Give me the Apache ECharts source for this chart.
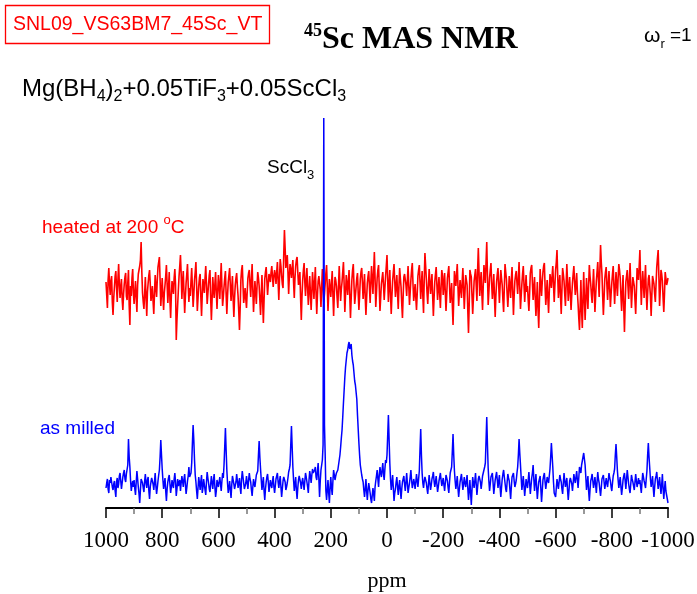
<!DOCTYPE html>
<html>
<head>
<meta charset="utf-8">
<script src="https://cdn.jsdelivr.net/npm/echarts@6/dist/echarts.min.js"></script>
<style>
  html, body { margin: 0; padding: 0; background: #fff; }
  #graph { width: 697px; height: 594px; }
</style>
</head>
<body>
<div id="graph"></div>
<script>
"use strict"

// spectra sampled every 5 ppm from 1000 ppm down to -1000 ppm,
// plus the in-between points (ppm - 2.5) kept in the *Mid arrays
const ppmStart = 1000, ppmStep = 5;

// as milled (blue), intensity, baseline = 0
const asMilled = [
    -3, 6, -8, 2, 10, -5, 4, -12, 7, 1, 12, -4, 8, 15, 3, 9, 46, 18, -6, 4,
    5, -10, 14, -2, -18, 6, 2, -7, 11, -3, 8, -14, 3, 9, -5, 12, -9, 4, 15, 45,
    16, -4, 7, -16, 3, 10, -8, 5, -3, 12, -11, 6, 2, -6, 9, -2, 11, -9, 4, 18,
    6, 22, 60, 25, 3, -14, 8, -5, 10, -3, 4, -10, 13, 2, -7, 9, -4, 11, -12, 5,
    -2, 8, -6, 12, 20, 57, 15, -8, 4, -13, 9, 1, -5, 11, -3, 7, -9, 14, 2, -6,
    9, -4, 12, 3, -11, 6, -2, 10, 14, 44, 16, -5, 8, -15, 3, 11, -7, 5, -3, 9,
    -8, 6, 12, -3, 9, -12, 4, 10, -5, 2, 13, 20, 59, 18, -6, 8, -14, 5, 11, -4,
    7, -5, 12, 3, -8, 14, 2, 16, 10, 18, 5, 22, -12, 15, 25, 367, 30, -15, 5, -18,
    8, -10, 15, 5, 12, 15, 25, 38, 55, 82, 108, 125, 135, 143, 138, 130, 120, 104, 98, 70,
    42, 20, 10, 3, -12, 6, -15, 2, -8, -18, -3, -16, 4, 15, -2, 18, 8, 22, 5, 25,
    30, 70, 22, -5, 10, -16, -4, 8, -10, 5, -14, 3, 9, -6, 12, -8, 2, 15, -3, 6,
    -4, 11, -2, 14, 56, 12, -3, 8, 2, -9, 10, -5, 6, 13, -2, 9, -7, 4, 12, -1,
    7, -6, 10, 4, -8, 12, 18, 51, 14, -4, 9, -12, 3, 11, -5, 8, -2, 10, -15, 5,
    -20, 8, -3, 12, -10, 6, 11, -4, 9, 14, 22, 68, 17, -6, 8, 12, -9, 5, 13, -3,
    10, -12, 6, 15, 2, -7, 11, 4, -14, 8, 12, -2, 5, 18, 46, 20, -5, 9, -11, 6,
    -3, 13, -9, 7, 20, -6, 11, -14, 3, 9, -17, 5, 12, -4, 8, 2, 16, 42, 18, -8,
    -12, 6, -4, 10, 3, -9, 12, -2, 7, -15, 4, 9, -6, 11, 2, 14, -3, 18, 12, 24,
    32, 20, -5, 9, -16, 4, 11, -3, 8, -8, 13, 2, -11, 6, 10, -4, 7, -2, 12, 4,
    -6, 9, 16, 41, 14, -3, 8, -10, 5, 12, -4, 15, 1, -8, 10, 3, -5, 11, -2, 7,
    5, -8, 12, 4, -3, 14, 42, 17, -2, 9, -12, 6, 13, -4, 8, -9, 11, -14, 4, -10,
    -18
];
const asMilledMid = [
    2, -4, 5, 8, -2, 1, -6, 3, -3, 9, 4, 2, 12, 6, 11, 20, 28, 4, 0, -2,
    -4, 3, 6, -9, -5, 8, -3, 4, 2, 5, -6, -2, 7, 1, 3, -1, -3, 10, 28, 30,
    5, 2, -6, -4, 7, 1, -2, 0, 6, 3, -4, -1, 5, 2, 4, 6, 1, -3, 9, 8,
    12, 42, 45, 10, -6, -3, 2, 4, -8, 6, -5, 3, 7, -4, 1, 2, 5, -2, -6, 3,
    3, 1, 4, 7, 38, 35, 2, -3, -5, 0, 5, -4, 3, 4, 2, -3, 6, 8, -4, 2,
    2, 5, 6, -5, -2, 1, 4, 11, 30, 28, 5, 2, -6, -4, 8, 3, -1, 0, 4, -2,
    -1, 9, 3, 4, -2, -4, 8, 3, -2, 7, 16, 40, 38, 5, 1, -5, -3, 9, 2, 3,
    1, 4, 8, -2, 5, 9, 10, 12, 15, 8, 14, 6, 4, 20, 40, 60, -6, -5, -8, -2,
    -3, 4, 10, 9, 14, 20, 30, 47, 68, 95, 118, 132, 140, 136, 141, 124, 112, 100, 86, 56,
    30, 15, 6, -5, -4, -6, -5, -3, -14, -10, -9, -2, 9, 6, 10, 12, 15, 11, 16, 22,
    50, 45, 6, 2, -3, -8, 3, -2, -1, -5, -4, 6, 1, 3, 2, -3, 8, 5, 1, 2,
    3, 4, 6, 36, 30, 2, 4, 5, -4, 1, 2, 0, 9, 4, 3, 1, -2, 8, 5, 3,
    0, 2, 7, -3, 3, 15, 34, 30, 4, 2, -3, -4, 7, 3, 1, 2, 4, -3, -6, -8,
    -5, 2, 4, 1, -2, 9, 3, 2, 12, 18, 45, 40, 4, 1, 10, 2, -2, 9, 5, 4,
    -2, -3, 11, 8, -4, 3, 7, -5, -2, 10, 4, 1, 12, 30, 32, 7, 2, -1, -3, 1,
    5, 2, -1, 12, 6, 3, -2, -5, 6, -4, -6, 9, 3, 2, 5, 9, 28, 30, 3, -10,
    -3, 1, 3, 6, -4, 2, 4, 3, -5, -6, 7, 1, 2, 6, 8, 5, 7, 15, 20, 28,
    26, 8, 2, -6, -5, 7, 4, 2, 0, 3, 6, -5, -3, 8, 3, 1, 2, 5, 7, -2,
    2, 12, 30, 28, 5, 3, -2, -3, 9, 4, 6, 8, -4, 1, 6, -1, 3, 4, 2, 1,
    -2, 3, 8, 1, 6, 30, 28, 6, 3, -3, -2, 9, 4, 2, -1, 0, -3, -4, -6, -14
];

// heated at 200 oC (red), baseline = 0, drawn shifted up by redOffset
const heated = [
    8, -18, 22, -5, 14, -25, 3, 19, -12, 26, -8, 11, -20, 6, 17, -10, 20, -35, -6, 21,
    -14, 9, -22, 16, 24, 48, -3, -19, 13, -26, 7, 20, -11, 4, -24, 15, -7, 23, 33, -16,
    12, -20, 5, 25, -13, 18, -28, 9, -4, 21, -50, -15, 14, 35, -9, 19, -23, 7, 26, -12,
    -6, 22, -17, 10, 28, -21, 4, 16, -26, 11, -3, 24, -14, 6, 20, -30, 13, -8, 18, -19,
    15, -9, 27, -16, 3, 19, -24, 8, 22, -11, 14, -27, 5, 17, -6, -40, 10, 25, -13, 2,
    -18, 12, 20, -7, 26, -22, 9, -14, 18, 4, -25, 15, -33, 11, 23, -5, 16, 8, 24, 3,
    20, 6, 28, -10, 31, 14, 2, 60, 22, 35, -4, 26, 12, 30, -8, 24, 33, 5, 18, -30,
    10, 27, -6, 22, -15, 14, -20, 18, -9, 23, -24, 9, 16, -17, 21, -12, 6, 25, -21, 11,
    -7, 19, -26, 13, 4, -18, 24, -11, 8, 28, -22, 15, -5, 20, -28, 10, 26, -14, 3, 17,
    -20, 11, 22, -9, 16, -25, 7, 19, -13, 24, -4, 38, -17, 12, 25, -21, 6, 18, -10, 14,
    35, -12, 20, -24, 9, 26, -7, 15, -19, 22, 3, -28, 13, 18, -6, 24, -15, 10, 27, -11,
    6, -20, 14, 25, -9, 19, -23, 37, 11, -14, 21, -4, 16, -26, 8, 23, -10, 13, -18, 20,
    -5, 17, -21, 12, 24, -13, 7, -35, 19, 4, 26, -16, 10, -8, 22, -19, 15, 5, -43, 20,
    13, -24, 9, 21, -11, 42, -6, 18, -20, 25, 7, 48, -15, 12, 27, -9, 16, -27, 8, 22,
    -13, 20, 5, -22, 26, 11, -17, 14, -8, 23, -25, 9, 19, -4, 28, -19, 6, 24, -12, 15,
    4, -21, 17, 25, -10, 13, -26, 8, -38, 21, -6, 18, 27, -15, 10, -23, 16, 2, 24, -12,
    20, 40, -8, 15, -24, 22, 9, -16, 26, -11, 13, -20, 7, 24, -5, 17, -14, -40, 10, -38,
    18, -30, 12, -19, 25, 6, -13, 21, -22, 9, 28, -7, 45, 16, -25, 11, 23, -10, 19, -17,
    7, 24, -14, 18, -6, 26, 12, -21, 15, -42, 8, 20, -9, 27, -18, 13, 4, -24, 22, 10,
    40, -15, 19, -8, 25, -20, 11, 17, -26, 14, 6, -12, 23, 40, -16, 20, 9, -22, 18, 5,
    12
];
const heatedMid = [
    -5, 10, 6, 9, -12, -8, 14, 2, 11, 5, 3, -9, -4, 13, -6, 7, -15, 4, 12, -3,
    -2, -8, 5, 20, 30, 18, -12, -4, -7, -2, 15, 6, -5, -11, -4, 3, 10, 25, 10, -3,
    -6, -3, 14, 6, 2, -10, -6, 3, 12, 5, -30, 0, 24, 16, 8, -3, -7, 16, 5, 2,
    9, 3, -5, 18, 4, -8, 12, -7, -5, 4, 12, 6, -4, 15, -8, -10, 1, 6, -2, -1,
    4, 10, 3, -7, 12, -4, -6, 15, 4, 2, -9, -8, 12, 4, -22, -18, 20, 5, -6, -9,
    -2, 17, 5, 10, 0, -6, -3, 4, 12, -10, -5, -12, -10, 18, 9, 6, 12, 18, 13, 14,
    15, 18, 8, 12, 24, 6, 35, 42, 28, 18, 14, 20, 22, 8, 12, 30, 18, 10, -8, -6,
    20, 8, 10, 2, 0, -4, -2, 6, 8, -3, -5, 14, 0, 3, 2, -4, 17, 3, -4, 2,
    6, -5, -4, 10, -8, 5, 4, 1, 18, 5, -4, 6, 9, -6, -9, 20, 5, -6, 12, -3,
    -6, 18, 7, 4, -7, -8, 14, 3, 8, 10, 18, 12, -3, 20, 2, -8, 12, 5, 2, 24,
    10, 6, -4, -6, 18, 9, 4, -3, 3, 12, -14, -6, 16, 5, 10, 4, -2, 20, 6, -3,
    -8, -4, 20, 8, 6, -6, 10, 24, -3, 4, 9, 6, -6, -8, 16, 5, 2, -4, 3, 14,
    6, -3, -5, 18, 4, -4, -15, -8, 12, 15, 4, -2, 0, 8, 2, -2, 10, -20, -15, 16,
    -6, -8, 15, 4, 20, 18, 7, -3, 4, 16, 28, 15, -2, 20, 6, 3, -8, -6, 16, 5,
    4, 12, -10, 2, 18, -4, -2, 4, 10, -2, -6, 15, 7, 12, 3, -6, 16, 5, 2, -2,
    -10, -3, 22, 6, 2, -8, -10, -20, -10, 6, 8, 24, 4, -4, -8, -2, 10, 14, 6, 5,
    28, 14, 4, -6, 0, 16, -4, 6, 8, 2, -4, -5, 16, 8, 6, -2, -28, -16, -20, -10,
    -8, -10, -4, 4, 14, -5, 4, 0, -6, 18, 10, 20, 28, -6, -8, 18, 5, 6, 2, -4,
    16, 4, 3, 5, 12, 20, -6, -2, -16, -15, 14, 4, 10, 4, -2, 8, -10, -2, 16, 24,
    10, 4, 6, 10, -2, -4, 15, -6, -5, 12, -4, 6, 32, 14, 0, 16, -8, -4, 12, 8
];
const redOffset = 195;

const xMin = -1000, xMax = 1000, xInterval = 200;

const serif = "'Liberation Serif', 'Times New Roman', serif";
const sans = "'Liberation Sans', Arial, sans-serif";

function toPairs(main, mid, offset)
{
    const out = [];
    main.forEach((v, i) =>
    {
        const ppm = ppmStart - i * ppmStep;
        out.push([ppm, v + offset]);
        if (i < mid.length)
            out.push([ppm - ppmStep / 2, mid[i] + offset]);
    });
    return out;
}

const myChart = echarts.init(document.getElementById("graph"), null, { renderer: "canvas" });

const option = {
    animation: false,
    grid: { left: 106, right: 29, top: 110, bottom: 86, containLabel: false, outerBoundsMode: "none" },
    xAxis: {
        type: "value",
        inverse: true,
        min: xMin,
        max: xMax,
        interval: xInterval,
        name: "ppm",
        nameLocation: "middle",
        nameGap: 62,
        nameTextStyle: { fontFamily: serif, fontSize: 22, color: "#000" },
        axisLine: { show: true, onZero: false, lineStyle: { color: "#000", width: 2 } },
        axisTick: { show: true, length: 10, lineStyle: { color: "#000", width: 1.5 } },
        minorTick: { show: true, splitNumber: 2, length: 6, lineStyle: { color: "#777", width: 1.5 } },
        splitLine: { show: false },
        axisLabel: {
            fontFamily: serif, fontSize: 23, color: "#000", margin: 21,
            formatter: v => String(v)
        }
    },
    yAxis: {
        type: "value",
        show: false,
        min: -23,
        max: 375,
        splitLine: { show: false }
    },
    series: [
        {
            name: "heated at 200 oC",
            type: "line",
            showSymbol: false,
            lineStyle: { color: "#ff0000", width: 1.6 },
            data: toPairs(heated, heatedMid, redOffset)
        },
        {
            name: "as milled",
            type: "line",
            showSymbol: false,
            lineStyle: { color: "#0000ff", width: 1.5 },
            data: toPairs(asMilled, asMilledMid, 0)
        }
    ],
    graphic: [
        {
            type: "rect",
            shape: { x: 5.5, y: 5.5, width: 264, height: 38 },
            style: { fill: "none", stroke: "#ff0000", lineWidth: 1.3 }
        },
        {
            type: "text", x: 13, y: 25,
            style: { text: "SNL09_VS63BM7_45Sc_VT", fill: "#ff0000", font: "19.5px " + sans, verticalAlign: "middle" }
        },
        {
            type: "text", x: 304, y: 40,
            style: {
                text: "{s|45}{b|Sc MAS NMR}",
                verticalAlign: "middle",
                rich: {
                    s: { fontFamily: serif, fontWeight: "bold", fontSize: 18, lineHeight: 18, verticalAlign: "top", fill: "#000" },
                    b: { fontFamily: serif, fontWeight: "bold", fontSize: 32, lineHeight: 36, fill: "#000" }
                }
            }
        },
        {
            type: "text", x: 644, y: 36,
            style: {
                text: "{w|ω}{s|r}{a| =1}",
                verticalAlign: "middle",
                rich: {
                    w: { fontFamily: sans, fontSize: 21, lineHeight: 30, fill: "#000" },
                    a: { fontFamily: sans, fontSize: 19, lineHeight: 30, fill: "#000" },
                    s: { fontFamily: sans, fontSize: 13, lineHeight: 14, verticalAlign: "bottom", fill: "#000" }
                }
            }
        },
        {
            type: "text", x: 22, y: 89,
            style: {
                text: "{a|Mg(BH}{s|4}{a|)}{s|2}{a|+0.05TiF}{s|3}{a|+0.05ScCl}{s|3}",
                verticalAlign: "middle",
                rich: {
                    a: { fontFamily: sans, fontSize: 24, lineHeight: 32, fill: "#000" },
                    s: { fontFamily: sans, fontSize: 16, lineHeight: 17, verticalAlign: "bottom", fill: "#000" }
                }
            }
        },
        {
            type: "text", x: 267, y: 168,
            style: {
                text: "{a|ScCl}{s|3}",
                verticalAlign: "middle",
                rich: {
                    a: { fontFamily: sans, fontSize: 19, lineHeight: 28, fill: "#000" },
                    s: { fontFamily: sans, fontSize: 13, lineHeight: 14, verticalAlign: "bottom", fill: "#000" }
                }
            }
        },
        {
            type: "text", x: 42, y: 228,
            style: {
                text: "{a|heated at 200 }{s|o}{a|C}",
                verticalAlign: "middle",
                rich: {
                    a: { fontFamily: sans, fontSize: 19, lineHeight: 28, fill: "#ff0000" },
                    s: { fontFamily: sans, fontSize: 13, lineHeight: 14, verticalAlign: "top", fill: "#ff0000" }
                }
            }
        },
        {
            type: "text", x: 40, y: 429,
            style: { text: "as milled", fill: "#0000ff", font: "19px " + sans, verticalAlign: "middle" }
        }
    ]
};

myChart.setOption(option);
</script>
</body>
</html>
